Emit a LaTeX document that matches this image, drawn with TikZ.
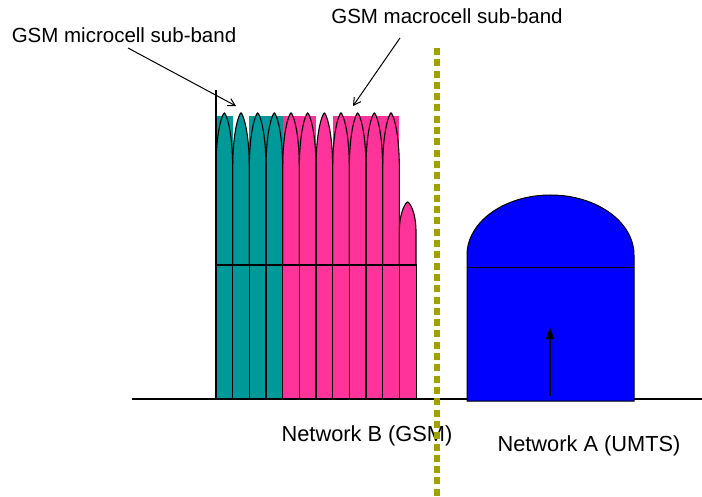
\documentclass[tikz,border=0pt]{standalone}
\usepackage{fontspec}
\setmainfont{Liberation Sans}
\usetikzlibrary{arrows.meta}
\definecolor{gteal}{RGB}{0,153,153}
\definecolor{gpink}{RGB}{255,51,153}
\definecolor{golive}{RGB}{160,160,0}
\definecolor{gblue}{RGB}{0,0,255}
\begin{document}
\begin{tikzpicture}[x=1pt,y=-1pt,
  toplbl/.style={font=\fontsize{20.5}{24}\selectfont, inner sep=0pt},
  botlbl/.style={font=\fontsize{21.8}{25}\selectfont, inner sep=0pt},
  bandline/.style={draw=black, line width=1.1pt},
  pointer/.style={draw=black, line width=1pt, -{Straight Barb[length=7pt,width=8pt]}},
  sepline/.style={draw=golive, line width=6pt, dash pattern=on 7pt off 4.3pt}]
\useasboundingbox (0,0) rectangle (702,497);

% carrier fills
\foreach \i/\yt/\sh/\col/\full in {0/113/55/gteal/1, 1/113/55/gteal/0, 2/113/55/gteal/1, 3/113/55/gteal/1,
  4/113/55/gpink/1, 5/113/55/gpink/1, 6/113/55/gpink/0, 7/113/55/gpink/1, 8/113/55/gpink/1,
  9/113/55/gpink/1, 10/113/55/gpink/1, 11/202/30/gpink/0} {
  \pgfmathsetmacro\xa{216+16.667*\i}
  \pgfmathsetmacro\xb{\xa+16.667}
  \pgfmathsetmacro\xm{\xa+8.333}
  \pgfmathsetmacro\ys{\yt+\sh}
  \pgfmathsetmacro\yc{\yt+0.3*\sh}
  \ifnum\full=1 \fill[\col] (\xa,116) rectangle (\xb,399); \fi
  \fill[\col] (\xa,399) -- (\xa,\ys) .. controls (\xa,\yc) and ({\xm-1.5},\yt) .. (\xm,\yt)
     .. controls ({\xm+1.5},\yt) and (\xb,\yc) .. (\xb,\ys) -- (\xb,399) -- cycle;
}
% carrier outlines
\foreach \i/\yt/\sh in {0/113/55, 1/113/55, 2/113/55, 3/113/55, 4/113/55, 5/113/55, 6/113/55,
  7/113/55, 8/113/55, 9/113/55, 10/113/55, 11/202/30} {
  \pgfmathsetmacro\xa{216+16.667*\i}
  \pgfmathsetmacro\xb{\xa+16.667}
  \pgfmathsetmacro\xm{\xa+8.333}
  \pgfmathsetmacro\ys{\yt+\sh}
  \pgfmathsetmacro\yc{\yt+0.3*\sh}
  \draw[bandline] (\xa,265) -- (\xa,\ys) .. controls (\xa,\yc) and ({\xm-1.5},\yt) .. (\xm,\yt)
     .. controls ({\xm+1.5},\yt) and (\xb,\yc) .. (\xb,\ys) -- (\xb,265);
  \draw[bandline] (\xa,265) -- (\xa,399);
}
\draw[bandline] (416.667,265) -- (416.667,399);
\draw[bandline] (216,265) -- (416.667,265);
\draw[bandline] (216,90) -- (216,399);

% baseline
\draw[draw=black, line width=2pt] (132,399) -- (702,399);

% UMTS block
\filldraw[fill=gblue, draw=black, line width=1pt] (467,401) -- (467,255)
   arc[start angle=180, end angle=360, x radius=83.5, y radius=60] -- (634,401) -- cycle;
\draw[black, line width=1pt] (467,268) -- (634,268);
\coordinate (ua) at (550,396);
\coordinate (ub) at (550,327);
\draw[black, line width=1.5pt, -{Triangle[length=12pt,width=8pt]}] (ua) -- (ub);

% labels
\node[toplbl] (mic) at (124,35) {GSM microcell sub-band};
\node[toplbl] (mac) at (447,16) {GSM macrocell sub-band};
\node[botlbl] (nb) at (367,436) {Network B (GSM)};
\node[botlbl] (na) at (589,446) {Network A (UMTS)};

% pointers
\coordinate (micA) at (128,48);
\coordinate (micB) at (236,106);
\coordinate (macA) at (400,38);
\coordinate (macB) at (353,106);
\draw[pointer] (micA) -- (micB);
\draw[pointer] (macA) -- (macB);

% separator
\coordinate (sepT) at (437,48);
\coordinate (sepB) at (437,497);
\draw[sepline] (sepT) -- (sepB);
\end{tikzpicture}
\end{document}
